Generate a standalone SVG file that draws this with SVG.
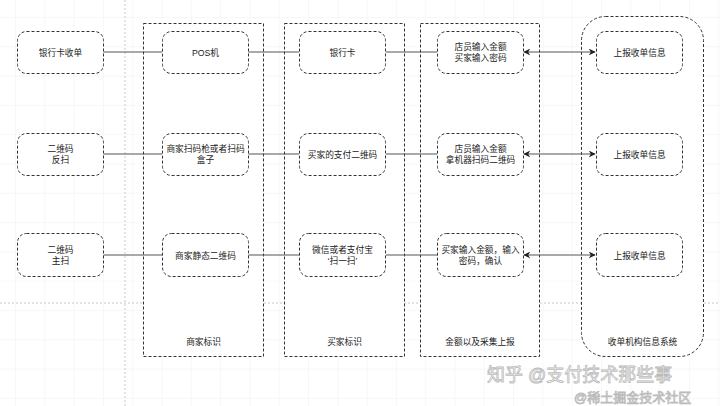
<svg xmlns="http://www.w3.org/2000/svg" width="720" height="406" viewBox="0 0 720 406">
<defs>
<pattern id="grid" x="15" y="17" width="29.3" height="29.3" patternUnits="userSpaceOnUse">
<path d="M0 0H29.3M0 0V29.3" fill="none" stroke="#f0f0f0" stroke-width="1"/>
</pattern>
<marker id="ah" viewBox="0 0 10 10" refX="9" refY="5" markerWidth="7" markerHeight="7" orient="auto-start-reverse" markerUnits="userSpaceOnUse">
<path d="M0 0L10 5L0 10L3 5Z" fill="#222"/>
</marker>
</defs>
<style>
.node rect{fill:#fff;stroke:#333;stroke-width:1;stroke-dasharray:3 2}
.cont{fill:#fff;stroke:#333;stroke-width:1;stroke-dasharray:3 2}
text{font-family:"Liberation Sans","Noto Sans CJK SC",sans-serif;font-size:8.7px;fill:#222;text-anchor:middle}
.conn line{stroke:#555;stroke-width:1.2}
.bg{stroke:#c8c8c8;stroke-width:1;stroke-dasharray:2 2;fill:none}
.wm{font-size:18px;fill:#fff;stroke:#bbb;stroke-width:0.8;text-anchor:start}
</style>
<rect width="720" height="406" fill="#fff"/>
<rect width="720" height="406" fill="url(#grid)"/>
<line class="bg" x1="125" y1="0" x2="125" y2="406"/>
<line class="bg" x1="0" y1="303" x2="720" y2="303"/>

<g id="col-merchant"><rect class="cont" x="143.5" y="23.5" width="120" height="333"/><text x="203.5" y="345">商家标识</text></g>
<g id="col-buyer"><rect class="cont" x="284.5" y="23.5" width="120" height="333"/><text x="344.5" y="345">买家标识</text></g>
<g id="col-amount"><rect class="cont" x="420.5" y="23.5" width="119" height="333"/><text x="480" y="345">金额以及采集上报</text></g>
<g id="col-acq"><rect class="cont" x="581.5" y="16.5" width="122" height="340" rx="24" ry="24"/><text x="642.5" y="345">收单机构信息系统</text></g>

<g class="conn" id="connectors">
<line x1="103" y1="52" x2="162" y2="52"/>
<line x1="248" y1="52" x2="299" y2="52"/>
<line x1="386" y1="52" x2="437" y2="52"/>
<line x1="524" y1="52" x2="595" y2="52" marker-start="url(#ah)" marker-end="url(#ah)"/>
<line x1="103" y1="154" x2="162" y2="154"/>
<line x1="248" y1="154" x2="299" y2="154"/>
<line x1="386" y1="154" x2="437" y2="154"/>
<line x1="524" y1="154" x2="595" y2="154" marker-start="url(#ah)" marker-end="url(#ah)"/>
<line x1="103" y1="255" x2="162" y2="255"/>
<line x1="248" y1="255" x2="299" y2="255"/>
<line x1="386" y1="255" x2="437" y2="255"/>
<line x1="524" y1="255" x2="595" y2="255" marker-start="url(#ah)" marker-end="url(#ah)"/>
</g>

<g class="node" id="n-bankcard-acq"><rect x="17.5" y="31.5" width="86" height="42" rx="9"/><text x="60.5" y="55.5">银行卡收单</text></g>
<g class="node" id="n-pos"><rect x="162.5" y="31.5" width="86" height="42" rx="9"/><text x="205.5" y="55.5">POS机</text></g>
<g class="node" id="n-bankcard"><rect x="299.5" y="31.5" width="86" height="42" rx="9"/><text x="342.5" y="55.5">银行卡</text></g>
<g class="node" id="n-amount1"><rect x="437.5" y="31.5" width="86" height="42" rx="9"/><text x="480.5" y="50">店员输入金额</text><text x="480.5" y="61">买家输入密码</text></g>
<g class="node" id="n-report1"><rect x="596.5" y="31.5" width="86" height="42" rx="9"/><text x="639.5" y="55.5">上报收单信息</text></g>

<g class="node" id="n-qr-reverse"><rect x="17.5" y="133.5" width="86" height="42" rx="9"/><text x="60.5" y="152">二维码</text><text x="60.5" y="163">反扫</text></g>
<g class="node" id="n-scanner"><rect x="162.5" y="133.5" width="86" height="42" rx="9"/><text x="205.5" y="152">商家扫码枪或者扫码</text><text x="205.5" y="163">盒子</text></g>
<g class="node" id="n-buyer-qr"><rect x="299.5" y="133.5" width="86" height="42" rx="9"/><text x="342.5" y="157.5">买家的支付二维码</text></g>
<g class="node" id="n-amount2"><rect x="437.5" y="133.5" width="86" height="42" rx="9"/><text x="480.5" y="152">店员输入金额</text><text x="480.5" y="163">拿机器扫码二维码</text></g>
<g class="node" id="n-report2"><rect x="596.5" y="133.5" width="86" height="42" rx="9"/><text x="639.5" y="157.5">上报收单信息</text></g>

<g class="node" id="n-qr-active"><rect x="17.5" y="233.5" width="86" height="43" rx="9"/><text x="60.5" y="252.5">二维码</text><text x="60.5" y="263.5">主扫</text></g>
<g class="node" id="n-static-qr"><rect x="162.5" y="233.5" width="86" height="43" rx="9"/><text x="205.5" y="258.5">商家静态二维码</text></g>
<g class="node" id="n-wechat"><rect x="299.5" y="233.5" width="86" height="43" rx="9"/><text x="342.5" y="252.5">微信或者支付宝</text><text x="342.5" y="263.5">‘扫一扫’</text></g>
<g class="node" id="n-amount3"><rect x="437.5" y="233.5" width="86" height="43" rx="9"/><text x="480.5" y="252.5">买家输入金额，输入</text><text x="480.5" y="263.5">密码，确认</text></g>
<g class="node" id="n-report3"><rect x="596.5" y="233.5" width="86" height="43" rx="9"/><text x="639.5" y="258.5">上报收单信息</text></g>

<g id="watermark">
<text class="wm" x="487" y="381">知乎 @支付技术那些事</text>
<text class="wm" x="574" y="402" style="font-size:13px">@稀土掘金技术社区</text>
</g>
</svg>
